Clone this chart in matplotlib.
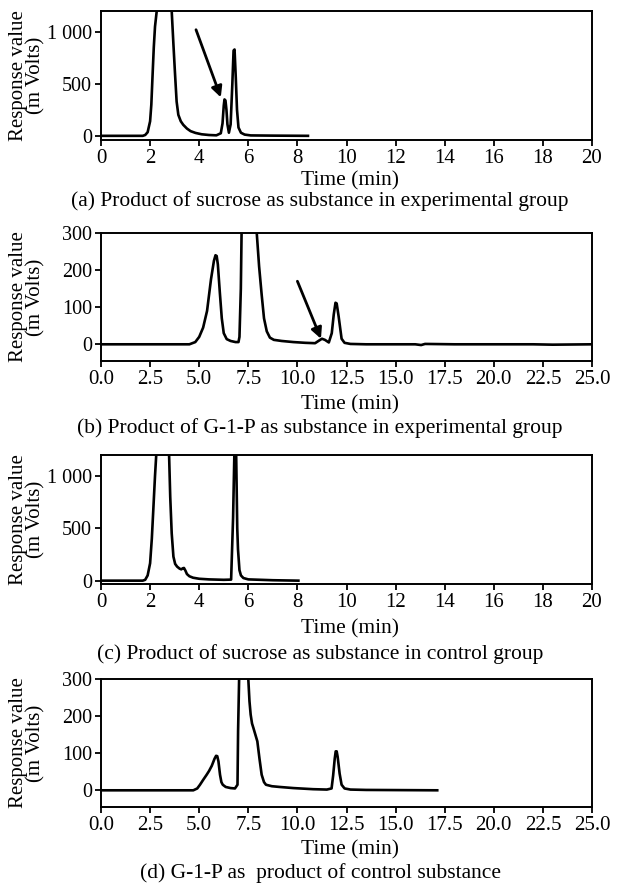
import matplotlib
matplotlib.use("Agg")
import matplotlib.pyplot as plt

plt.rcParams['font.family'] = ['Liberation Serif', 'DejaVu Serif']

# ---------------- data ----------------
# (a) sucrose, experimental group
ta = [0, 1.7, 1.8, 1.9, 2.0, 2.05, 2.1, 2.15, 2.2, 2.27, 2.35, 2.55, 2.8, 2.88, 2.95, 3.01,
      3.08, 3.15, 3.25, 3.35, 3.5, 3.65, 3.85, 4.1, 4.4, 4.7, 4.88, 4.95, 5.0, 5.03, 5.07,
      5.11, 5.15, 5.21, 5.28, 5.35, 5.4, 5.44, 5.49, 5.54, 5.6, 5.7, 5.85, 6.1, 7.0, 8.43]
va = [0, 0, 8, 35, 140, 300, 580, 850, 1050, 1200, 1400, 2000, 1450, 1200, 880, 618,
      330, 202, 140, 106, 70, 45, 28, 15, 8, 5, 25, 120, 290, 350, 340,
      250, 110, 30, 110, 500, 820, 830, 560, 250, 80, 30, 12, 4, 2, 0]

# (b) G-1-P, experimental group
tb = [0, 4.5, 4.8, 5.0, 5.2, 5.4, 5.6, 5.75, 5.83, 5.89, 5.95, 6.05, 6.15, 6.25, 6.4, 6.6,
      6.85, 7.0, 7.05, 7.12, 7.17, 7.55, 7.93, 8.05, 8.18, 8.3, 8.44, 8.6, 8.8, 9.2, 9.8,
      10.4, 10.9, 11.1, 11.25, 11.4, 11.6, 11.75, 11.85, 11.94, 12.0, 12.1, 12.25, 12.4,
      12.7, 13.5, 16.0, 16.3, 16.5, 18.0, 20.0, 22.0, 23.0, 25.0]
vb = [0, 0, 6, 20, 45, 90, 175, 225, 240, 238, 215, 140, 70, 30, 14, 9,
      6, 6, 20, 150, 350, 1200, 300, 210, 134, 70, 35, 18, 12, 9, 6,
      4, 3, 10, 15, 12, 5, 30, 80, 112, 110, 75, 15, 4,
      1, 0, 0, -2, 1, 0, 0, 0, -1, 0]

# (c) sucrose, control group
tc = [0, 1.7, 1.8, 1.9, 2.0, 2.07, 2.13, 2.2, 2.3, 2.5, 2.75, 2.82, 2.88, 2.95, 3.02,
      3.1, 3.2, 3.27, 3.33, 3.38, 3.44, 3.5, 3.6, 3.75, 4.0, 4.4, 5.0, 5.3, 5.38, 5.44,
      5.5, 5.55, 5.58, 5.64, 5.7, 5.8, 6.0, 7.0, 8.04]
vc = [0, 0, 8, 50, 166, 400, 675, 1000, 1400, 2000, 1400, 800, 452, 229, 160,
      134, 115, 108, 118, 121, 95, 63, 42, 28, 18, 12, 8, 10, 600, 1300,
      1300, 500, 300, 100, 50, 25, 12, 4, 0]

# (d) G-1-P, control substance
td = [0, 4.7, 4.9, 5.04, 5.2, 5.38, 5.5, 5.64, 5.78, 5.86, 5.92, 5.98, 6.06, 6.13, 6.2,
      6.35, 6.6, 6.82, 6.95, 6.98, 7.04, 7.25, 7.5, 7.56, 7.62, 7.69, 7.76, 7.86, 7.96,
      8.07, 8.18, 8.3, 8.4, 8.7, 9.1, 9.8, 10.8, 11.5, 11.74, 11.82, 11.9, 11.95, 12.0,
      12.05, 12.15, 12.25, 12.4, 12.7, 13.5, 17.12]
vd = [0, 0, 5, 15, 28, 42, 52, 66, 85, 93, 92, 78, 42, 22, 15,
      9, 6, 5, 15, 160, 320, 1000, 300, 240, 204, 180, 168, 150, 132,
      85, 42, 22, 15, 11, 9, 6, 3, 2, 5, 40, 85, 105, 105,
      90, 45, 15, 5, 2, 1, 0]

xt_20 = [0, 2, 4, 6, 8, 10, 12, 14, 16, 18, 20]
xt_25 = [0, 2.5, 5, 7.5, 10, 12.5, 15, 17.5, 20, 22.5, 25]
yt_big = [0, 500, 1000]
yt_big_lab = ['0', '500', '1 000']
yt_small = [0, 100, 200, 300]

captions = ['(a) Product of sucrose as substance in experimental group',
            '(b) Product of G-1-P as substance in experimental group',
            '(c) Product of sucrose as substance in control group',
            '(d) G-1-P as  product of control substance']

# ---------------- layout ----------------
W, H = 621, 883
fig = plt.figure(figsize=(W / 100, H / 100), dpi=100)

def px_axes(top, bottom, left=101, right=592):
    return fig.add_axes([left / W, (H - bottom) / H, (right - left) / W, (bottom - top) / H])

panels = [
    dict(box=(11, 140), t=ta, v=va, xlim=(0, 20), xt=xt_20, xl=[str(x) for x in xt_20],
         ylim=(-40, 1200), yt=yt_big, yl=yt_big_lab, xlab_y=181, cap_y=201,
         arrow=((3.87, 1020), (4.88, 370))),
    dict(box=(233, 361), t=tb, v=vb, xlim=(0, 25), xt=xt_25, xl=['%.1f' % x for x in xt_25],
         ylim=(-45, 300), yt=yt_small, yl=[str(y) for y in yt_small], xlab_y=405, cap_y=428,
         arrow=((10.0, 170), (11.2, 15))),
    dict(box=(455, 584), t=tc, v=vc, xlim=(0, 20), xt=xt_20, xl=[str(x) for x in xt_20],
         ylim=(-32, 1200), yt=yt_big, yl=yt_big_lab, xlab_y=629, cap_y=654, arrow=None),
    dict(box=(679, 807), t=td, v=vd, xlim=(0, 25), xt=xt_25, xl=['%.1f' % x for x in xt_25],
         ylim=(-45, 300), yt=yt_small, yl=[str(y) for y in yt_small], xlab_y=850, cap_y=873,
         arrow=None),
]

for p, cap in zip(panels, captions):
    top, bot = p['box']
    ax = px_axes(top, bot)
    ax.plot(p['t'], p['v'], color='black', lw=1.9, solid_joinstyle='round')
    ax.set_xlim(*p['xlim'])
    ax.set_ylim(*p['ylim'])
    ax.set_xticks(p['xt'])
    ax.set_xticklabels(p['xl'])
    ax.set_yticks(p['yt'])
    ax.set_yticklabels(p['yl'])
    ax.tick_params(direction='out', length=4.5, width=1.3, pad=2,
                   top=False, right=False)
    ax.tick_params(axis='x', labelsize=15)
    ax.tick_params(axis='y', labelsize=14.5)
    for s in ax.spines.values():
        s.set_linewidth(1.4)
    if p['arrow'] is not None:
        (x0, y0), (x1, y1) = p['arrow']
        ax.annotate('', xy=(x1, y1), xytext=(x0, y0),
                    arrowprops=dict(arrowstyle='-|>', color='black', lw=2.0,
                                    mutation_scale=16, shrinkA=0, shrinkB=0))
    yc = (top + bot) / 2
    fig.text(27 / W, 1 - yc / H, 'Response value\n(m Volts)', rotation=90,
             ha='center', va='center', multialignment='center', fontsize=15,
             linespacing=0.9)
    fig.text(350 / W, 1 - p['xlab_y'] / H, 'Time (min)', ha='center', va='center',
             fontsize=15.5)
    fig.text(320 / W, 1 - p['cap_y'] / H, cap, ha='center', va='center', fontsize=15.5)

fig.savefig('out.png', dpi=100)
